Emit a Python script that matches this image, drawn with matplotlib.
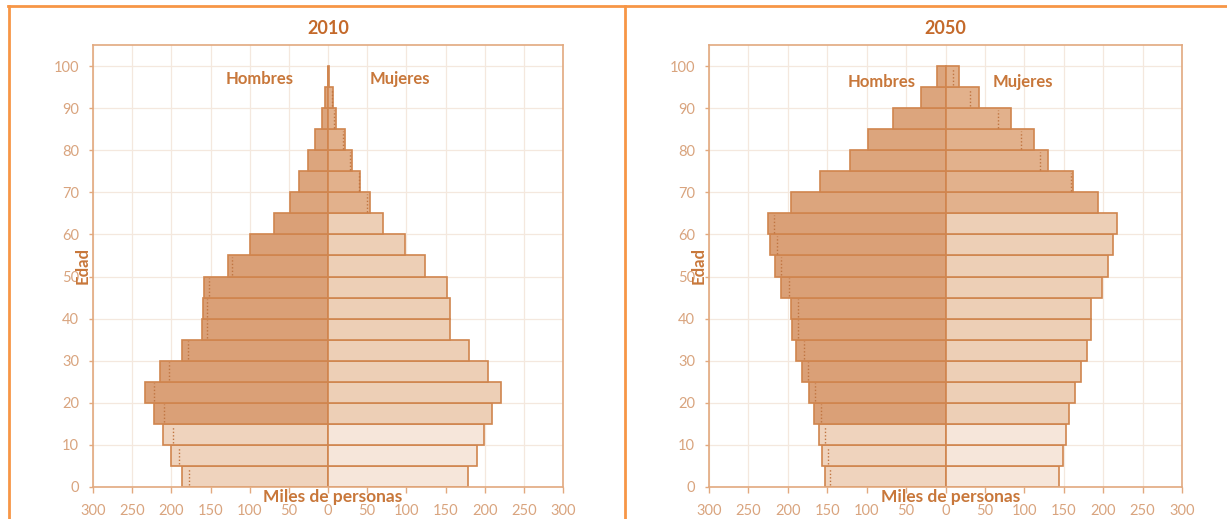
import matplotlib
matplotlib.use("Agg")
import matplotlib.pyplot as plt
from matplotlib.lines import Line2D
import numpy as np

# grupos de edad (limite inferior, quinquenales)
edades = np.arange(0, 100, 5)

hombres_2010 = [186, 200, 210, 222, 234, 214, 186, 161, 160, 158,
                128, 100, 69, 48.5, 36.6, 25.1, 16.6, 7.2, 3.8, 0.5]
mujeres_2010 = [178.5, 190, 198.8, 209, 221, 204, 180, 156, 156, 152,
                124, 98.7, 69.8, 53.2, 41.3, 30.6, 21.3, 10.6, 6.4, 1.5]
hombres_2050 = [153, 157, 161, 167, 173.5, 182, 189.5, 194.5, 195.8, 209,
                216.6, 222.5, 225, 195.8, 159, 121, 97.7, 66.9, 30.8, 10.5]
mujeres_2050 = [144.6, 149, 153, 157, 164, 172, 180, 184.5, 185, 199,
                206, 212, 217, 193, 161.7, 130, 112, 83, 43, 17]

# lineas punteadas (otra estimacion)
nan = np.nan
hombres_2010_p = [178, 190, 198, 209, 222, 203, 179, 155, 155, 152,
                  123, nan, nan, nan, nan, nan, nan, nan, nan, nan]
mujeres_2010_p = [nan, nan, nan, nan, nan, nan, nan, nan, nan, nan,
                  nan, nan, nan, 50, 39, 28, 19.5, 8, 4.5, nan]
hombres_2050_p = [146, 149, 152.7, 157.7, 166, 174, 180, 186.5, 187, 199,
                  208.5, 214, 218, nan, nan, nan, nan, nan, nan, nan]
mujeres_2050_p = [nan, nan, nan, nan, nan, nan, nan, nan, nan, nan,
                  nan, nan, nan, nan, 159.5, 120, 96, 66.5, 30.5, 9.5]

xticks = [-300, -250, -200, -150, -100, -50, 0, 50, 100, 150, 200, 250, 300]
xticklabels = [str(abs(v)) for v in xticks]

FUENTE = ['Lato', 'DejaVu Sans']
c_title = '#C4692A'
c_text = '#C8773A'
c_tick = '#D9A47E'
c_spine = '#E2A97F'
c_edge = '#D0854E'
c_grid = '#F4E8DE'

col_h = {'0-14': '#EFD3BD', '15-64': '#DAA077', '65+': '#DCA57D'}
col_m = {'0-14': '#F6E6DA', '15-64': '#EDCFB6', '65+': '#E2B18C'}


def grupo(e):
    if e < 15:
        return '0-14'
    if e < 65:
        return '15-64'
    return '65+'


def piramide(ax, hom, muj, hom_p, muj_p, titulo, pos_h, pos_m):
    hom = np.array(hom)
    muj = np.array(muj)
    ch = [col_h[grupo(e)] for e in edades]
    cm = [col_m[grupo(e)] for e in edades]
    ax.barh(edades, -hom, height=5, align='edge', color=ch,
            edgecolor=c_edge, linewidth=1.2, zorder=2)
    ax.barh(edades, muj, height=5, align='edge', color=cm,
            edgecolor=c_edge, linewidth=1.2, zorder=2)
    for vals, sign in ((hom_p, -1), (muj_p, 1)):
        vals = np.array(vals)
        ok = ~np.isnan(vals)
        ax.vlines(sign * vals[ok], edades[ok] + 0.4, edades[ok] + 4.6,
                  colors='#C07440', linestyles=(0, (1, 1.5)), linewidth=1.0,
                  zorder=3)

    ax.set_xlim(-300, 300)
    ax.set_ylim(0, 105)
    ax.set_xticks(xticks)
    ax.set_xticklabels(xticklabels)
    ax.set_yticks(range(0, 101, 10))
    ax.grid(True, color=c_grid, linewidth=0.9, zorder=0)
    ax.set_axisbelow(True)
    for s in ax.spines.values():
        s.set_color(c_spine)
        s.set_linewidth(1.2)
    ax.tick_params(axis='x', colors=c_spine, labelcolor=c_tick, length=4,
                   width=1, pad=8, labelsize=10.5)
    ax.tick_params(axis='y', colors=c_spine, labelcolor=c_tick, length=3,
                   width=1, pad=7, labelsize=10.5)
    for lab in ax.get_xticklabels() + ax.get_yticklabels():
        lab.set_family(FUENTE)

    ax.set_title(titulo, color=c_title, fontsize=13, fontweight='bold',
                 family=FUENTE, pad=8)
    ax.text(pos_h[0], pos_h[1], 'Hombres', color=c_text, fontsize=12,
            fontweight='bold', family=FUENTE, ha='center', va='center')
    ax.text(pos_m[0], pos_m[1], 'Mujeres', color=c_text, fontsize=12,
            fontweight='bold', family=FUENTE, ha='center', va='center')
    ax.text(-0.004, 0.50, 'Edad', transform=ax.transAxes, rotation=90,
            color=c_text, fontsize=12, fontweight='bold', family=FUENTE,
            ha='right', va='center', zorder=5)
    ax.text(0.51, -0.022, 'Miles de personas', transform=ax.transAxes,
            color=c_text, fontsize=12.5, fontweight='bold', family=FUENTE,
            ha='center', va='center', zorder=5)


fig = plt.figure(figsize=(12.27, 5.19), dpi=100)
ax1 = fig.add_axes([93 / 1227, 1 - 487 / 519, 470 / 1227, 442 / 519])
ax2 = fig.add_axes([709 / 1227, 1 - 487 / 519, 473 / 1227, 442 / 519])

piramide(ax1, hombres_2010, mujeres_2010, hombres_2010_p, mujeres_2010_p,
         '2010', (-87, 97), (92, 97))
piramide(ax2, hombres_2050, mujeres_2050, hombres_2050_p, mujeres_2050_p,
         '2050', (-81, 96.3), (98, 96.3))

# marco de la tabla
borde = '#F79646'
fig.add_artist(Line2D([8 / 1227, 1], [1 - 6 / 519, 1 - 6 / 519], color=borde, lw=2))
fig.add_artist(Line2D([8.5 / 1227, 8.5 / 1227], [0, 1 - 6 / 519], color=borde, lw=2))
fig.add_artist(Line2D([624.5 / 1227, 624.5 / 1227], [0, 1 - 6 / 519], color=borde, lw=2))

fig.savefig('out.png', dpi=100)
